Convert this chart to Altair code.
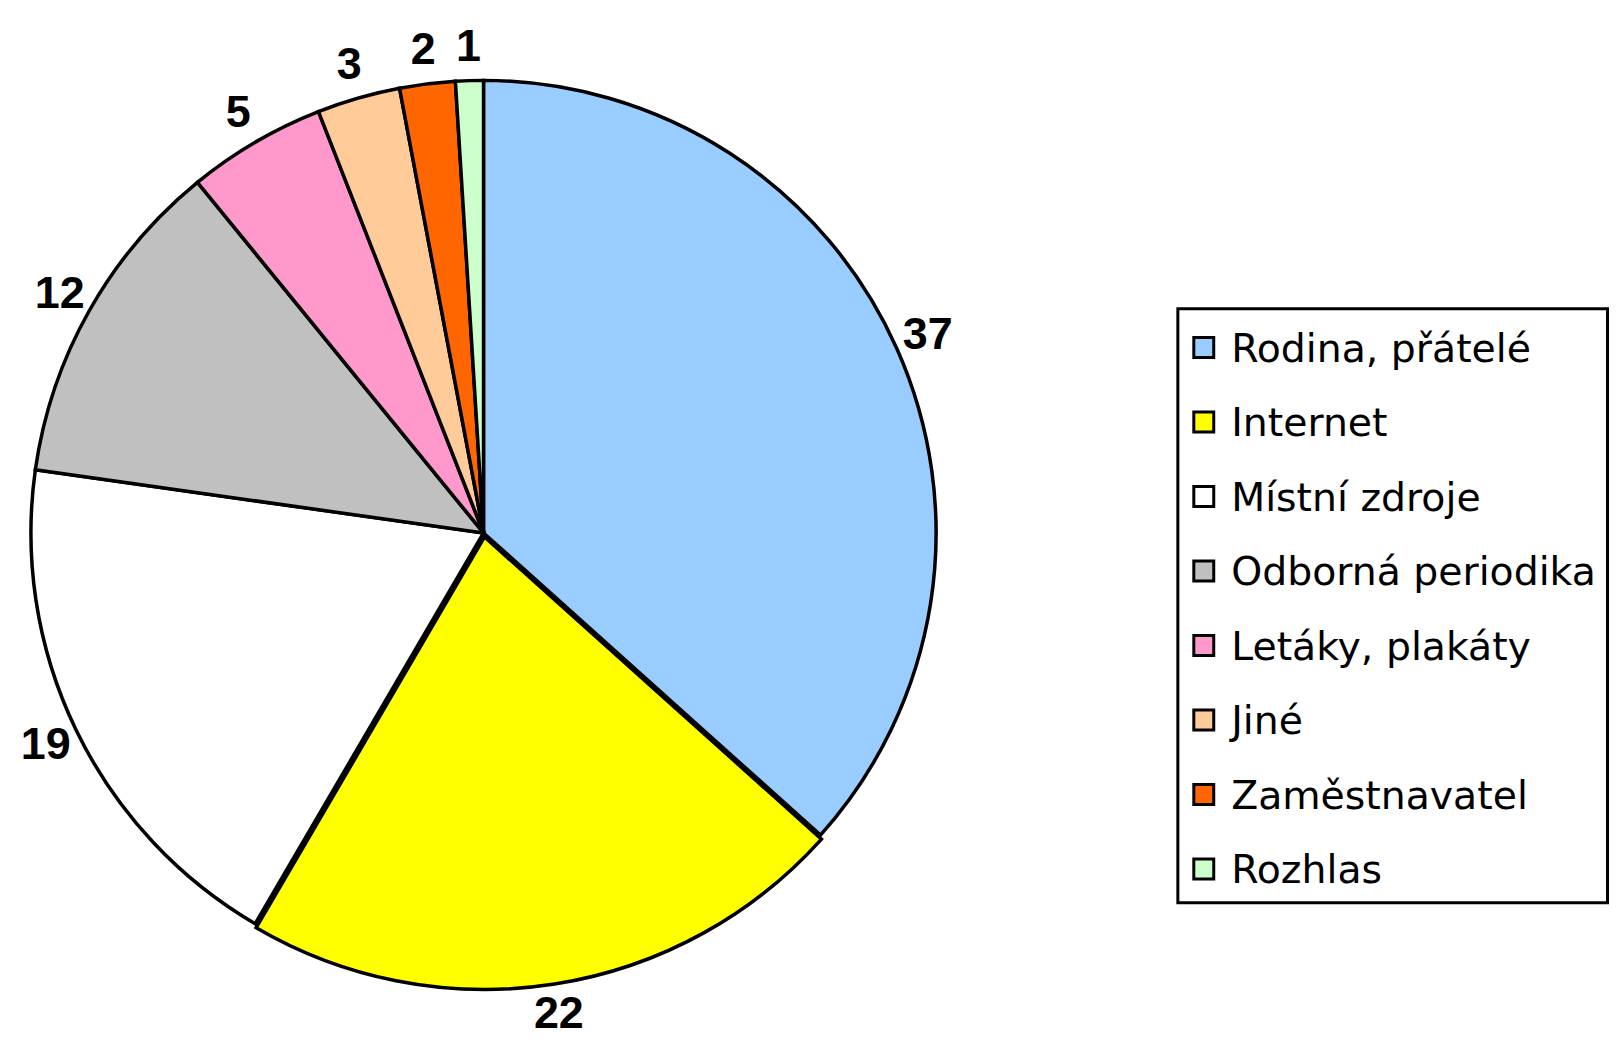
import math
import altair as alt
import pandas as pd

categories = ["Rodina, přátelé", "Internet", "Místní zdroje", "Odborná periodika",
              "Letáky, plakáty", "Jiné", "Zaměstnavatel", "Rozhlas"]
values = [37, 22, 19, 12, 5, 3, 2, 1]
colors = ["#99CCFF", "#FFFF00", "#FFFFFF", "#C0C0C0", "#FF99CC", "#FFCC99", "#FF6600", "#CCFFCC"]

total = sum(values)
df = pd.DataFrame({"kategorie": categories, "hodnota": values, "poradi": list(range(len(values)))})

# layout (pixels inside the chart)
CX, CY, R = 477, 525, 454
LABEL_R = 488
LEG_LEFT, LEG_RIGHT, LEG_TOP, LEG_BOTTOM = 1173.5, 1604.5, 300, 896
ROW_FIRST, ROW_LAST = 339, 862
SYM_X, TEXT_X = 1199.5, 1227

theta_scale = alt.Scale(domain=[0, total], range=[0, 2 * math.pi])
color = alt.Color("kategorie:N", scale=alt.Scale(domain=categories, range=colors), legend=None)
row_y = alt.Y("kategorie:N", scale=alt.Scale(type="point", domain=categories,
                                             range=[ROW_FIRST, ROW_LAST], padding=0),
              axis=None)

base = alt.Chart(df).transform_window(
    end="sum(hodnota)", sort=[alt.SortField("poradi")], frame=[None, 0]
).transform_calculate(
    start="datum.end - datum.hodnota",
    mid="datum.end - datum.hodnota / 2"
)

main = base.transform_filter(alt.datum.kategorie != "Internet").mark_arc(
    stroke="black", strokeWidth=3.5, strokeJoin="miter"
).encode(
    theta=alt.Theta("start:Q", scale=theta_scale),
    theta2="end:Q",
    color=color,
    x=alt.value(CX), y=alt.value(CY), radius=alt.value(R),
)

explode = base.transform_filter(alt.datum.kategorie == "Internet").mark_arc(
    stroke="black", strokeWidth=3.5, strokeJoin="miter"
).encode(
    theta=alt.Theta("start:Q", scale=theta_scale),
    theta2="end:Q",
    color=color,
    x=alt.value(CX + 1), y=alt.value(CY + 4), radius=alt.value(R),
)

labels = base.mark_text(font="Liberation Sans", fontWeight="bold", fontSize=45,
                        align="center", baseline="middle", color="black").encode(
    theta=alt.Theta("mid:Q", scale=theta_scale),
    radius=alt.value(LABEL_R),
    text="hodnota:Q",
    x=alt.value(CX), y=alt.value(CY),
)

box = alt.Chart(pd.DataFrame({"k": [0]})).mark_rect(
    fill="white", stroke="black", strokeWidth=3
).encode(
    x=alt.value(LEG_LEFT), x2=alt.value(LEG_RIGHT),
    y=alt.value(LEG_TOP), y2=alt.value(LEG_BOTTOM),
)

symbols = alt.Chart(df).mark_square(size=400, stroke="black", strokeWidth=3, opacity=1).encode(
    x=alt.value(SYM_X), y=row_y, fill=alt.Fill("kategorie:N",
                                               scale=alt.Scale(domain=categories, range=colors),
                                               legend=None),
)

legend_text = alt.Chart(df).mark_text(font="DejaVu Sans", fontSize=39.5, align="left",
                                      baseline="middle", dy=2.5, color="black").encode(
    x=alt.value(TEXT_X), y=row_y, text="kategorie:N",
)

chart = alt.layer(main, explode, labels, box, symbols, legend_text).properties(
    width=1608, height=1029,
    autosize=alt.AutoSizeParams(type="none"),
    padding=0,
).configure_view(stroke=None)

chart.save("out.html", embed_options={"renderer": "svg", "actions": False})
